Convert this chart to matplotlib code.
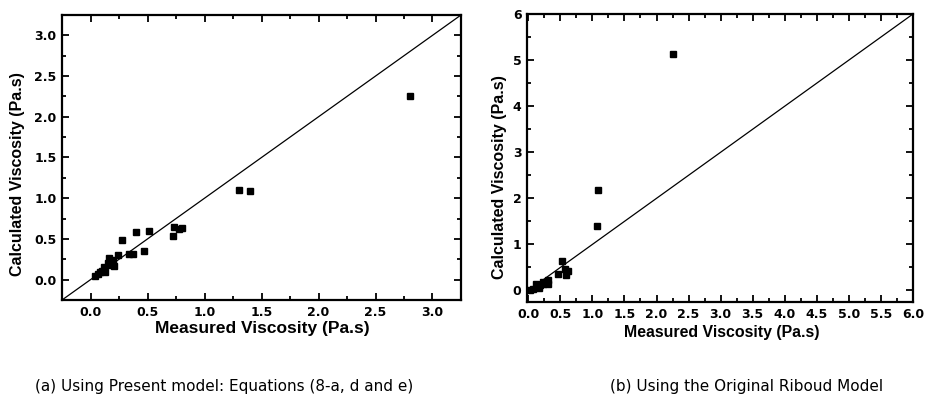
import numpy as np
import matplotlib.pyplot as plt
from matplotlib.ticker import MultipleLocator

# (a) present model: measured vs calculated viscosity (Pa.s)
measured_a = [2.80, 1.30, 1.40, 0.73, 0.72, 0.78, 0.80, 0.51, 0.40, 0.28, 0.47,
              0.34, 0.37, 0.24, 0.16, 0.21, 0.18, 0.17, 0.12, 0.13, 0.10, 0.07,
              0.04, 0.20, 0.15, 0.08]
calculated_a = [2.26, 1.10, 1.09, 0.65, 0.54, 0.62, 0.64, 0.60, 0.58, 0.49, 0.35,
                0.32, 0.32, 0.30, 0.27, 0.17, 0.22, 0.18, 0.16, 0.09, 0.11, 0.07,
                0.05, 0.24, 0.20, 0.09]

# (b) original Riboud model
measured_b = [2.25, 1.08, 1.07, 0.52, 0.47, 0.57, 0.59, 0.62, 0.03, 0.08, 0.14,
              0.18, 0.23, 0.28, 0.30, 0.31, 0.23, 0.16, 0.12]
calculated_b = [5.14, 2.19, 1.39, 0.65, 0.36, 0.47, 0.33, 0.42, 0.01, 0.04, 0.09,
                0.11, 0.13, 0.16, 0.22, 0.15, 0.18, 0.06, 0.13]

ticks_a = np.arange(0, 3.01, 0.5)
xticks_b = np.arange(0, 6.01, 0.5)
yticks_b = np.arange(0, 7, 1)

tick_font = dict(family=['DejaVu Sans'], weight='bold', size=9)
label_font = dict(family=['Liberation Sans', 'DejaVu Sans'], weight='bold')
caption_font = dict(family=['DejaVu Sans'], size=11)

fig = plt.figure(figsize=(9.27, 4.0), dpi=100)
ax1 = fig.add_axes([0.0669, 0.25, 0.4304, 0.7125])
ax2 = fig.add_axes([0.5685, 0.245, 0.4164, 0.72])


def style(ax, minor_x, minor_y):
    ax.xaxis.set_minor_locator(MultipleLocator(minor_x))
    ax.yaxis.set_minor_locator(MultipleLocator(minor_y))
    ax.tick_params(which='both', direction='in', top=True, right=True, width=1.3)
    ax.tick_params(which='major', length=5, pad=4)
    ax.tick_params(which='minor', length=3)
    for sp in ax.spines.values():
        sp.set_linewidth(1.6)


# left panel
ax1.plot([-0.25, 3.25], [-0.25, 3.25], color='black', lw=0.9)
ax1.plot(measured_a, calculated_a, 's', color='black', ms=3.8)
ax1.set_xlim(-0.25, 3.25)
ax1.set_ylim(-0.25, 3.25)
style(ax1, 0.25, 0.25)
ax1.set_xticks(ticks_a)
ax1.set_yticks(ticks_a)
ax1.set_xticklabels([f'{v:.1f}' for v in ticks_a], **tick_font)
ax1.set_yticklabels([f'{v:.1f}' for v in ticks_a], **tick_font)
ax1.set_xlabel('Measured Viscosity (Pa.s)', size=12.5, **label_font)
ax1.set_ylabel('Calculated Viscosity (Pa.s)', size=11.5, **label_font)
ax1.xaxis.set_label_coords(0.503, -0.072)
ax1.yaxis.set_label_coords(-0.093, 0.442)

# right panel
ax2.plot([0, 6], [0, 6], color='black', lw=0.9)
ax2.plot(measured_b, calculated_b, 's', color='black', ms=3.8)
ax2.set_xlim(-0.02, 6.0)
ax2.set_ylim(-0.25, 6.0)
style(ax2, 0.25, 0.5)
ax2.set_xticks(xticks_b)
ax2.set_yticks(yticks_b)
ax2.set_xticklabels([f'{v:.1f}' for v in xticks_b], **tick_font)
ax2.set_yticklabels([f'{v:d}' for v in yticks_b], **tick_font)
ax2.set_xlabel('Measured Viscosity (Pa.s)', size=11.4, **label_font)
ax2.set_ylabel('Calculated Viscosity (Pa.s)', size=11.5, **label_font)
ax2.xaxis.set_label_coords(0.505, -0.08)
ax2.yaxis.set_label_coords(-0.052, 0.434)

fig.text(0.038, 0.035, '(a) Using Present model: Equations (8-a, d and e)',
         ha='left', va='center', **caption_font)
fig.text(0.658, 0.035, '(b) Using the Original Riboud Model',
         ha='left', va='center', **caption_font)

fig.savefig('out.png', dpi=100)
